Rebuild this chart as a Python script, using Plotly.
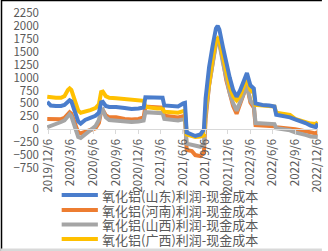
import plotly.graph_objects as go

dates = [
    "2019-12-02", "2019-12-16", "2020-01-06", "2020-01-27", "2020-02-10", "2020-02-24",
    "2020-03-02", "2020-03-09", "2020-03-23", "2020-04-06", "2020-04-16", "2020-05-04",
    "2020-05-25", "2020-06-15", "2020-06-29", "2020-07-08", "2020-07-15", "2020-07-27",
    "2020-08-10", "2020-09-07", "2020-10-12", "2020-11-09", "2020-12-07", "2020-12-28",
    "2021-01-04", "2021-01-25", "2021-02-22", "2021-03-15", "2021-03-22", "2021-04-19",
    "2021-05-17", "2021-06-07", "2021-06-14", "2021-06-21", "2021-07-12", "2021-07-26",
    "2021-08-16", "2021-08-30", "2021-09-06", "2021-09-20", "2021-10-04", "2021-10-18",
    "2021-10-25", "2021-11-01", "2021-11-15", "2021-11-29", "2021-12-13", "2021-12-27",
    "2022-01-10", "2022-01-24", "2022-02-07", "2022-02-21", "2022-03-07", "2022-03-21",
    "2022-03-28", "2022-04-25", "2022-05-23", "2022-06-13", "2022-06-20", "2022-07-18",
    "2022-08-15", "2022-09-05", "2022-09-26", "2022-10-17", "2022-11-07", "2022-11-28",
    "2022-12-06",
]

shandong = [
    530, 460, 450, 450, 470, 540, 560, 540, 350, 150, 110, 180,
    220, 260, 320, 520, 530, 450, 430, 430, 410, 390, 400, 420,
    620, 620, 610, 610, 460, 450, 440, 500, 510, -60, -100, -130,
    -100, 0, 600, 1200, 1600, 1950, 2000, 1930, 1600, 1250, 1000, 760,
    630, 750, 900, 1090, 850, 790, 500, 470, 460, 440, 280, 260,
    230, 190, 160, 120, 70, 40, 110,
]

henan = [
    200, 195, 190, 195, 220, 300, 330, 300, 100, -60, -80, -50,
    -30, 20, 120, 340, 370, 270, 230, 230, 200, 190, 200, 230,
    440, 430, 420, 420, 260, 240, 230, 250, 260, -400, -420, -500,
    -520, -450, 200, 850, 1300, 1680, 1720, 1680, 1350, 950, 700, 450,
    300, 480, 650, 860, 520, 420, 80, 75, 70, 60, 40, 30,
    20, 0, -20, -40, -60, -80, -50,
]

shanxi = [
    40, 60, 100, 140, 170, 260, 290, 250, 50, -150, -170, -100,
    -40, 60, 180, 360, 380, 230, 180, 170, 150, 140, 150, 170,
    330, 320, 310, 310, 200, 180, 170, 190, 200, -280, -300, -330,
    -340, -300, 300, 850, 1250, 1650, 1690, 1650, 1300, 950, 700, 500,
    360, 520, 680, 840, 560, 460, 120, 115, 110, 100, 20, 0,
    -20, -60, -80, -110, -140, -160, -150,
]

guangxi = [
    630, 620, 610, 610, 640, 760, 790, 760, 550, 360, 320, 340,
    370, 410, 480, 720, 730, 640, 610, 600, 580, 560, 560, 550,
    430, 410, 400, 400, 340, 330, 320, 350, 360, -100, -130, -150,
    -140, -120, 400, 900, 1350, 1720, 1760, 1720, 1400, 1050, 820, 640,
    560, 650, 820, 980, 760, 700, 470, 460, 450, 440, 320, 300,
    280, 200, 170, 130, 110, 100, 140,
]

names = [
    "氧化铝(山东)利润-现金成本",
    "氧化铝(河南)利润-现金成本",
    "氧化铝(山西)利润-现金成本",
    "氧化铝(广西)利润-现金成本",
]
colors = ["#4A7DCC", "#ED7D31", "#A5A5A5", "#FFC000"]
series = [shandong, henan, shanxi, guangxi]

tick_dates = [
    "2019-12-06", "2020-03-06", "2020-06-06", "2020-09-06", "2020-12-06",
    "2021-03-06", "2021-06-06", "2021-09-06", "2021-12-06", "2022-03-06",
    "2022-06-06", "2022-09-06", "2022-12-06",
]
tick_text = [
    "2019/12/6", "2020/3/6", "2020/6/6", "2020/9/6", "2020/12/6",
    "2021/3/6", "2021/6/6", "2021/9/6", "2021/12/6", "2022/3/6",
    "2022/6/6", "2022/9/6", "2022/12/6",
]
y_ticks = list(range(-750, 2251, 250))

W, H = 328, 251
L, R, T, B = 47, 4, 13, 83
pw, ph = W - L - R, H - T - B


def px(x):
    return (x - L) / pw


def py(y):
    return (H - B - y) / ph


fig = go.Figure()
draw_order = [1, 2, 3, 0]
for i in draw_order:
    fig.add_trace(go.Scatter(
        x=dates, y=series[i], name=names[i], mode="lines",
        line=dict(color=colors[i], width=4), showlegend=False,
    ))

font_family = "Noto Sans CJK SC, Noto Sans, sans-serif"

fig.update_layout(
    width=W, height=H,
    margin=dict(l=L, r=R, t=T, b=B),
    paper_bgcolor="white", plot_bgcolor="white",
    font=dict(family=font_family, size=11, color="#595959"),
    xaxis=dict(
        type="date", range=["2019-12-01", "2022-12-07"],
        tickvals=tick_dates, ticktext=tick_text, tickangle=-90,
        showgrid=False, zeroline=False,
        showline=True, linecolor="#D9D9D9", linewidth=1,
        ticks="outside", ticklen=4, tickcolor="#D9D9D9",
        anchor="free", position=0.25,
        ticklabeloverflow="allow",
        tickfont=dict(size=11.5, color="#595959"),
    ),
    yaxis=dict(
        range=[-750, 2250], tickvals=y_ticks,
        showgrid=False, zeroline=False, showline=False,
        ticks="", ticklabelstandoff=7,
        tickfont=dict(size=11.5, color="#595959"),
    ),
)

# manual legend
row_y = [195, 210, 224.5, 239]
for k in range(4):
    fig.add_shape(type="line", xref="paper", yref="paper",
                  x0=px(62), x1=px(99), y0=py(row_y[k]), y1=py(row_y[k]),
                  line=dict(color=colors[k], width=4))
    fig.add_annotation(xref="paper", yref="paper", x=px(102), y=py(row_y[k]),
                       text=names[k], showarrow=False, xanchor="left", yanchor="middle",
                       borderpad=0,
                       font=dict(size=13, color="#595959", family=font_family))

# frame edges
fig.add_shape(type="line", xref="paper", yref="paper",
              x0=px(0), x1=px(W), y0=py(0.5), y1=py(0.5),
              line=dict(color="#000000", width=1.5))
fig.add_shape(type="line", xref="paper", yref="paper",
              x0=px(0.5), x1=px(0.5), y0=py(0), y1=py(H),
              line=dict(color="#000000", width=1.5))
fig.add_shape(type="rect", xref="paper", yref="paper",
              x0=px(0), x1=px(W), y0=py(248.5), y1=py(H),
              line=dict(width=0), fillcolor="#D9D9D9")

fig.write_html("out.html")
